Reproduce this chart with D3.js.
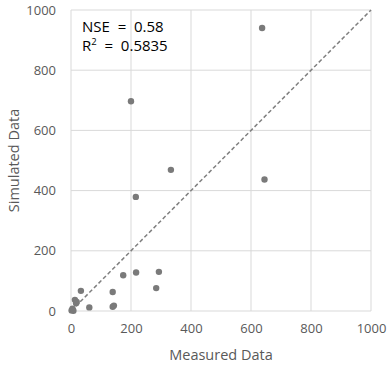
<!DOCTYPE html>
<meta charset="utf-8">
<style>
body { margin: 0; background: #fff; }
text { font-family: "Open Sans", "Noto Sans", sans-serif; }
.tick text { fill: #595959; font-size: 13px; }
.grid line { stroke: #d9d9d9; stroke-width: 1px; }
.oneline { fill: none; stroke: #7f7f7f; stroke-width: 1.5px; stroke-dasharray: 4,2.5; }
</style>
<body>
<svg id="graph"></svg>
<script src="https://d3js.org/d3.v7.min.js"></script>
<script>

// measured vs simulated values
var measured  = [2, 5, 8, 13, 17, 19, 33, 61, 139, 139, 143, 174, 217, 293, 284, 200, 216, 333, 645, 637];
var simulated = [2, 8, 1, 37, 26, 30, 67, 12, 63, 14, 18, 119, 128, 130, 76, 697, 379, 469, 437, 940];
var ticks = [0, 200, 400, 600, 800, 1000];

var margin = {top: 10, right: 19, bottom: 56, left: 71};

var x = d3.scaleLinear().domain([0, 1000]).range([0, 300]);
var y = d3.scaleLinear().domain([0, 1000]).range([301, 0]);

var svg = d3.select("#graph")
    .attr("width", 390)
    .attr("height", 367)
  .append("g")
    .attr("transform", "translate(" + margin.left + "," + margin.top + ")");

// gridlines
svg.append("g")
    .attr("class", "grid")
    .selectAll("line")
    .data(ticks)
  .enter().append("line")
    .attr("x1", function(d) { return x(d); })
    .attr("x2", function(d) { return x(d); })
    .attr("y1", y(0))
    .attr("y2", y(1000));

svg.append("g")
    .attr("class", "grid")
    .selectAll("line")
    .data(ticks)
  .enter().append("line")
    .attr("x1", x(0))
    .attr("x2", x(1000))
    .attr("y1", function(d) { return y(d); })
    .attr("y2", function(d) { return y(d); });

// axes (labels only)
var xAxis = svg.append("g")
    .attr("transform", "translate(0," + y(0) + ")")
    .call(d3.axisBottom(x).tickValues(ticks).tickFormat(d3.format("d")).tickSize(0).tickPadding(13));
xAxis.select(".domain").remove();

var yAxis = svg.append("g")
    .call(d3.axisLeft(y).tickValues(ticks).tickFormat(d3.format("d")).tickSize(0).tickPadding(15));
yAxis.select(".domain").remove();

// 1:1 line
svg.append("path")
    .attr("class", "oneline")
    .attr("d", d3.line()([[x(0), y(0)], [x(1000), y(1000)]]));

// points
svg.selectAll(".dot")
    .data(measured)
  .enter().append("circle")
    .attr("class", "dot")
    .attr("r", 3.2)
    .attr("cx", function(d) { return x(d); })
    .attr("cy", function(d, i) { return y(simulated[i]); })
    .style("fill", "#7a7a7a");

// stats text
svg.append("text")
    .attr("x", 11)
    .attr("y", 22)
    .style("font-size", "15px")
    .style("fill", "#000")
    .attr("xml:space", "preserve")
    .style("white-space", "pre")
    .text("NSE  =  0.58");
var r2 = svg.append("text")
    .attr("x", 11)
    .attr("y", 41)
    .style("font-size", "15px")
    .style("fill", "#000")
    .style("white-space", "pre");
r2.append("tspan").text("R");
r2.append("tspan").attr("dy", -6).style("font-size", "9.5px").text("2");
r2.append("tspan").attr("dy", 6).text("  =  0.5835");

// axis titles
svg.append("text")
    .attr("x", x(500))
    .attr("y", y(0) + 49)
    .attr("text-anchor", "middle")
    .style("font-size", "14.5px")
    .style("fill", "#595959")
    .text("Measured Data");

svg.append("text")
    .attr("transform", "translate(" + (-52) + "," + y(500) + ") rotate(-90)")
    .attr("text-anchor", "middle")
    .style("font-size", "14.5px")
    .style("fill", "#595959")
    .text("Simulated Data");

</script>
</body>
